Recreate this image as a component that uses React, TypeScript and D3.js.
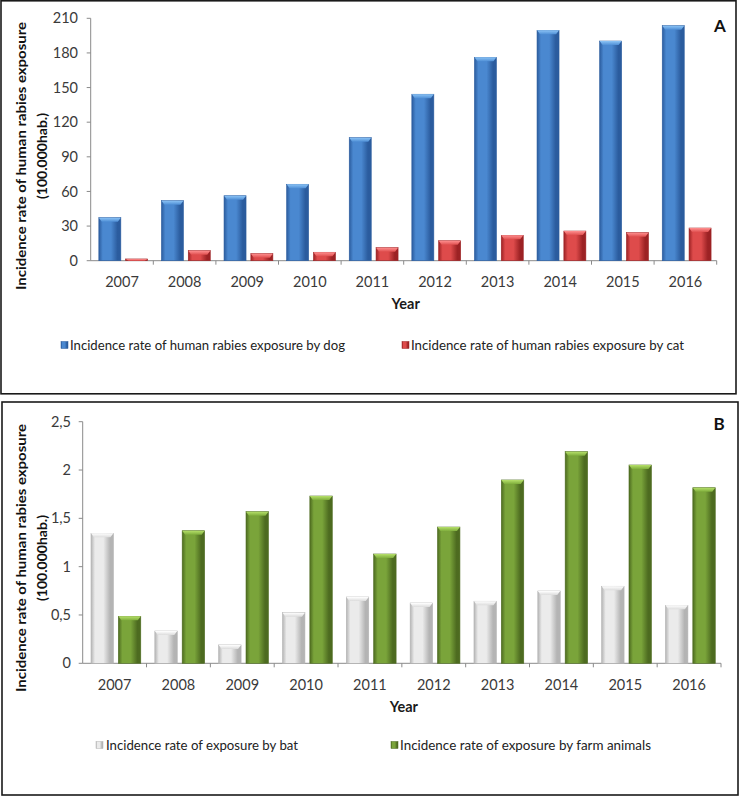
import React from "react";
import * as d3 from "d3";

const years = ["2007", "2008", "2009", "2010", "2011", "2012", "2013", "2014", "2015", "2016"];

// panel A
const dogRate = [37.3, 52, 56.3, 66.2, 106.6, 144.2, 176.2, 199.6, 190.3, 203.6];
const catRate = [1.5, 8.7, 6.1, 7.3, 11.3, 17.3, 22, 25.7, 24.3, 28.3];
const ticksA = [0, 30, 60, 90, 120, 150, 180, 210];

// panel B
const batRate = [1.345, 0.334, 0.19, 0.524, 0.686, 0.624, 0.642, 0.748, 0.797, 0.6];
const farmRate = [0.486, 1.372, 1.569, 1.731, 1.131, 1.41, 1.897, 2.19, 2.052, 1.817];
const ticksB = [0, 0.5, 1, 1.5, 2, 2.5];

const FONT = "Lato, 'Open Sans', sans-serif";

type Palette = { edge: string; mid: string; cap: string; capDark: string };

const palettes: Record<string, Palette> = {
  blue: { edge: "#2b5c9e", mid: "#4a88d0", cap: "#8cc4f6", capDark: "#4f8fd6" },
  red: { edge: "#9c2224", mid: "#de4b4b", cap: "#ff9090", capDark: "#e05050" },
  gray: { edge: "#b4b4b4", mid: "#ebebeb", cap: "#ffffff", capDark: "#dcdcdc" },
  green: { edge: "#4d6b20", mid: "#7aa43a", cap: "#b6e06a", capDark: "#7fae3c" },
};

const Gradients = () => (
  <defs>
    {Object.entries(palettes).map(([k, p]) => (
      <React.Fragment key={k}>
        <linearGradient id={`body-${k}`} x1="0" x2="1" y1="0" y2="0">
          <stop offset="0" stopColor={p.edge} />
          <stop offset="0.18" stopColor={p.mid} />
          <stop offset="0.55" stopColor={p.mid} />
          <stop offset="0.85" stopColor={p.edge} />
          <stop offset="1" stopColor={p.edge} />
        </linearGradient>
        <linearGradient id={`cap-${k}`} x1="0" x2="0" y1="0" y2="1">
          <stop offset="0" stopColor={p.cap} />
          <stop offset="1" stopColor={p.capDark} />
        </linearGradient>
      </React.Fragment>
    ))}
  </defs>
);

type PanelProps = {
  top: number; // panel frame top
  frame: [number, number, number, number];
  xRange: [number, number];
  yRange: [number, number];
  domainMax: number;
  ticks: number[];
  tickFmt: (v: number) => string;
  series: { values: number[]; pal: string; label: string }[];
  legend: { swatch: number; textX: number; textW: number }[];
  legendY: number;
  yearY: number;
  xLabelY: number;
  tickRight: number;
  titleY: number;
  letter: string;
  letterPos: [number, number];
};

const Panel = (p: PanelProps) => {
  const x = d3.scaleBand<string>().domain(years).range(p.xRange).padding(0);
  const bw = x.bandwidth();
  const inner = d3
    .scaleBand<number>()
    .domain(p.series.map((_, i) => i))
    .range([bw * 0.13, bw * 0.91])
    .paddingInner(0.18);
  const y = d3.scaleLinear().domain([0, p.domainMax]).range(p.yRange);
  const [fx, fy, fw, fh] = p.frame;

  return (
    <g>
      <rect x={fx} y={fy} width={fw} height={fh} fill="white" stroke="#1a1a1a" strokeWidth={1.6} />

      {/* y axis */}
      <line x1={p.xRange[0]} x2={p.xRange[0]} y1={p.yRange[1]} y2={p.yRange[0]} stroke="#8a8a8a" />
      {p.ticks.map((t) => (
        <g key={t}>
          <line x1={p.xRange[0] - 4} x2={p.xRange[0]} y1={y(t)} y2={y(t)} stroke="#8a8a8a" />
          <text x={p.tickRight} y={y(t)} dy="0.35em" textAnchor="end" fontSize={14.5} fill="#3a3a3a" fontFamily={FONT}>
            {p.tickFmt(t)}
          </text>
        </g>
      ))}

      {/* x axis */}
      <line x1={p.xRange[0]} x2={p.xRange[1]} y1={p.yRange[0]} y2={p.yRange[0]} stroke="#8a8a8a" />
      {years.map((yr) => (
        <g key={yr}>
          <line x1={x(yr)! + bw} x2={x(yr)! + bw} y1={p.yRange[0]} y2={p.yRange[0] + 4} stroke="#8a8a8a" />
          <text x={x(yr)! + bw / 2} y={p.xLabelY} dy="0.35em" textAnchor="middle" fontSize={14.5} fill="#3a3a3a" fontFamily={FONT}>
            {yr}
          </text>
        </g>
      ))}

      {/* bars */}
      {p.series.map((s, si) =>
        s.values.map((v, i) => {
          const bx = x(years[i])! + inner(si)!;
          const w = inner.bandwidth();
          const by = y(v);
          const h = y(0) - by;
          const cap = Math.min(4, h);
          return (
            <g key={`${si}-${i}`}>
              <rect x={bx} y={by} width={w} height={h} fill={`url(#body-${s.pal})`} stroke={palettes[s.pal].edge} strokeWidth={0.6} />
              <polygon
                points={`${bx},${by} ${bx + w},${by} ${bx + w - 3},${by + cap} ${bx + 3},${by + cap}`}
                fill={`url(#cap-${s.pal})`}
              />
            </g>
          );
        })
      )}

      {/* axis titles */}
      <text x={(p.xRange[0] + p.xRange[1]) / 2 + 2} y={p.yearY} dy="0.35em" textAnchor="middle" fontSize={14.5} fontWeight="bold" fill="#1a1a1a" fontFamily={FONT}>
        Year
      </text>
      <g transform={`translate(21,${p.titleY}) rotate(-90)`}>
        <text x={0} y={0} dy="0.35em" textAnchor="middle" fontSize={14} fontWeight="bold" fill="#111" fontFamily={FONT} textLength={268} lengthAdjust="spacingAndGlyphs">
          Incidence rate of human rabies exposure
        </text>
        <text x={0} y={21} dy="0.35em" textAnchor="middle" fontSize={14} fontWeight="bold" fill="#111" fontFamily={FONT}>
          (100.000hab.)
        </text>
      </g>

      {/* legend */}
      {p.series.map((s, si) => {
        const l = p.legend[si];
        return (
          <g key={s.label}>
            <rect x={l.swatch} y={p.legendY - 3.5} width={7} height={7} fill={`url(#body-${s.pal})`} stroke={palettes[s.pal].edge} strokeWidth={0.5} />
            <text x={l.textX} y={p.legendY} dy="0.35em" fontSize={14} fill="#222" fontFamily={FONT} textLength={l.textW} lengthAdjust="spacingAndGlyphs">
              {s.label}
            </text>
          </g>
        );
      })}

      <text x={p.letterPos[0]} y={p.letterPos[1]} dy="0.35em" textAnchor="middle" fontSize={17} fontWeight="bold" fill="#111" fontFamily={FONT}>
        {p.letter}
      </text>
    </g>
  );
};

export default function App() {
  const fmtB = (v: number) => String(v).replace(".", ",");
  return (
    <svg width={740} height={797} style={{ position: "absolute", left: 0, top: 0, background: "white" }}>
      <Gradients />
      <Panel
        top={0}
        frame={[1, 0.8, 735, 393]}
        xRange={[90.7, 716.7]}
        yRange={[260.7, 18.3]}
        domainMax={210}
        ticks={ticksA}
        tickFmt={(v) => String(v)}
        series={[
          { values: dogRate, pal: "blue", label: "Incidence rate of human rabies exposure by dog" },
          { values: catRate, pal: "red", label: "Incidence rate of human rabies exposure by cat" },
        ]}
        legend={[
          { swatch: 61, textX: 70, textW: 275 },
          { swatch: 402, textX: 411, textW: 273 },
        ]}
        legendY={345}
        yearY={304}
        xLabelY={282}
        tickRight={78}
        titleY={156}
        letter="A"
        letterPos={[720, 26]}
      />
      <Panel
        top={402}
        frame={[2, 402, 736, 393]}
        xRange={[82.7, 721]}
        yRange={[663.3, 421.7]}
        domainMax={2.5}
        ticks={ticksB}
        tickFmt={fmtB}
        series={[
          { values: batRate, pal: "gray", label: "Incidence rate of exposure by bat" },
          { values: farmRate, pal: "green", label: "Incidence rate of exposure by farm animals" },
        ]}
        legend={[
          { swatch: 96, textX: 106, textW: 192 },
          { swatch: 391, textX: 400, textW: 251 },
        ]}
        legendY={745}
        yearY={707}
        xLabelY={685}
        tickRight={71}
        titleY={558}
        letter="B"
        letterPos={[719, 424]}
      />
    </svg>
  );
}
